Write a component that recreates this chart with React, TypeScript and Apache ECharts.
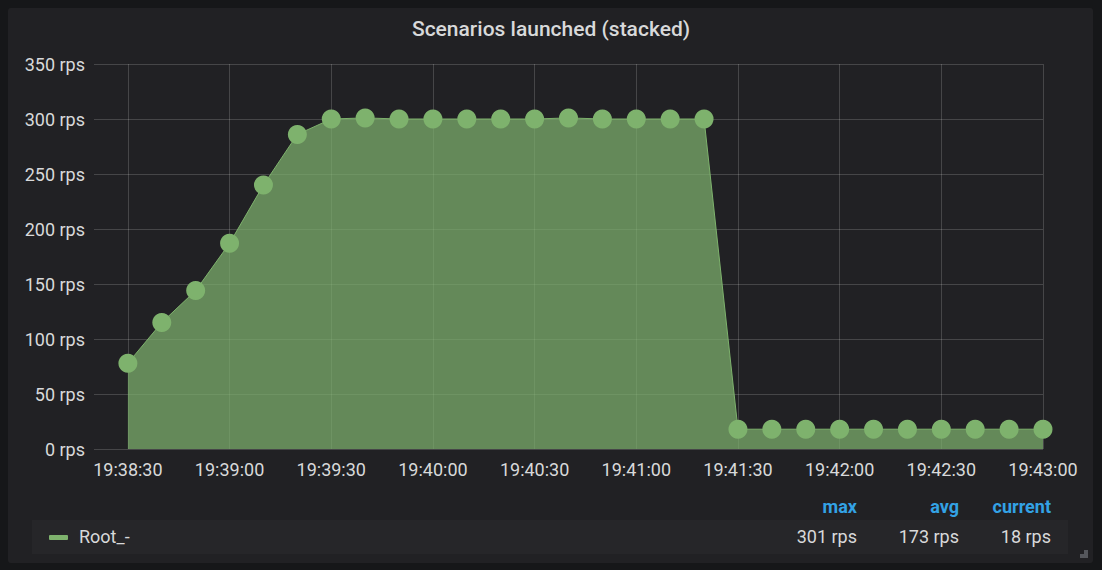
import React, { useEffect, useRef } from "react";
import * as echarts from "echarts";

const categories = [
  "19:38:20", "19:38:30", "19:38:40", "19:38:50", "19:39:00", "19:39:10", "19:39:20",
  "19:39:30", "19:39:40", "19:39:50", "19:40:00", "19:40:10", "19:40:20", "19:40:30",
  "19:40:40", "19:40:50", "19:41:00", "19:41:10", "19:41:20", "19:41:30", "19:41:40",
  "19:41:50", "19:42:00", "19:42:10", "19:42:20", "19:42:30", "19:42:40", "19:42:50",
  "19:43:00",
];
const rootValues: (number | null)[] = [
  null, 78, 115, 144, 187, 240, 286, 300, 301, 300, 300, 300, 300, 300, 301, 300, 300,
  300, 300, 18, 18, 18, 18, 18, 18, 18, 18, 18, 18,
];
const seriesName = "Root_-";
const legendHeaders = ["max", "avg", "current"];
const legendValues = ["301 rps", "173 rps", "18 rps"];
const title = "Scenarios launched (stacked)";

const FONT = "Roboto, 'Noto Sans', sans-serif";
const GREEN = "#7eb26d";
const TEXT = "#d8d9da";

export default function App() {
  const ref = useRef<HTMLDivElement>(null);
  useEffect(() => {
    if (!ref.current) return;
    const chart = echarts.init(ref.current, undefined, { renderer: "svg" });
    const labelIdx = (i: number) => i % 3 === 1;
    const headerX = [857, 959, 1051];
    chart.setOption({
      animation: false,
      backgroundColor: "#161719",
      title: {
        text: title,
        left: "center",
        top: 13,
        textStyle: { color: TEXT, fontSize: 21, fontWeight: 500, fontFamily: FONT },
      },
      grid: { left: 94, right: 59, top: 64, bottom: 121, containLabel: false },
      xAxis: {
        type: "category",
        data: categories,
        boundaryGap: false,
        axisLine: { show: false },
        axisTick: { show: false },
        axisLabel: {
          interval: (i: number) => labelIdx(i),
          color: TEXT,
          fontSize: 18,
          fontFamily: FONT,
          margin: 11,
        },
        splitLine: {
          show: true,
          interval: (i: number) => labelIdx(i),
          lineStyle: { color: "rgba(255,255,255,0.17)", width: 1 },
        },
      },
      yAxis: {
        type: "value",
        min: 0,
        max: 350,
        interval: 50,
        axisLine: { show: false },
        axisTick: { show: false },
        axisLabel: {
          formatter: "{value} rps",
          color: TEXT,
          fontSize: 18,
          fontFamily: FONT,
          margin: 9,
        },
        splitLine: { lineStyle: { color: "rgba(255,255,255,0.17)", width: 1 } },
      },
      series: [
        {
          name: seriesName,
          type: "line",
          stack: "total",
          data: rootValues,
          symbol: "circle",
          symbolSize: 19,
          showAllSymbol: true,
          itemStyle: { color: GREEN, opacity: 1 },
          lineStyle: { color: GREEN, width: 1 },
          areaStyle: { color: GREEN, opacity: 0.72 },
          connectNulls: false,
          z: 3,
        },
      ],
      graphic: [
        {
          type: "rect",
          z: -10,
          shape: { x: 8, y: 8, width: 1085, height: 555, r: 3 },
          style: { fill: "#212124" },
          silent: true,
        },
        {
          type: "rect",
          z: -9,
          shape: { x: 32, y: 520, width: 1036, height: 34 },
          style: { fill: "#262629" },
          silent: true,
        },
        {
          type: "rect",
          shape: { x: 49, y: 535, width: 19, height: 5, r: 1 },
          style: { fill: GREEN },
        },
        {
          type: "text",
          x: 79,
          y: 536,
          style: {
            text: seriesName,
            fill: TEXT,
            font: `18px ${FONT}`,
            verticalAlign: "middle",
          },
        },
        ...legendHeaders.map((h, i) => ({
          type: "text",
          x: headerX[i],
          y: 506,
          style: {
            text: h,
            fill: "#33a2e5",
            font: `bold 18px ${FONT}`,
            align: "right",
            verticalAlign: "middle",
          },
        })),
        ...legendValues.map((v, i) => ({
          type: "text",
          x: headerX[i],
          y: 536,
          style: {
            text: v,
            fill: TEXT,
            font: `18px ${FONT}`,
            align: "right",
            verticalAlign: "middle",
          },
        })),
        {
          type: "polygon",
          shape: {
            points: [
              [1088, 550],
              [1088, 558],
              [1080, 558],
              [1080, 554],
              [1084, 554],
              [1084, 550],
            ],
          },
          style: { fill: "#55575c" },
        },
      ],
    });
    return () => chart.dispose();
  }, []);
  return (
    <div
      ref={ref}
      style={{ position: "fixed", left: 0, top: 0, width: 1102, height: 570 }}
    />
  );
}
